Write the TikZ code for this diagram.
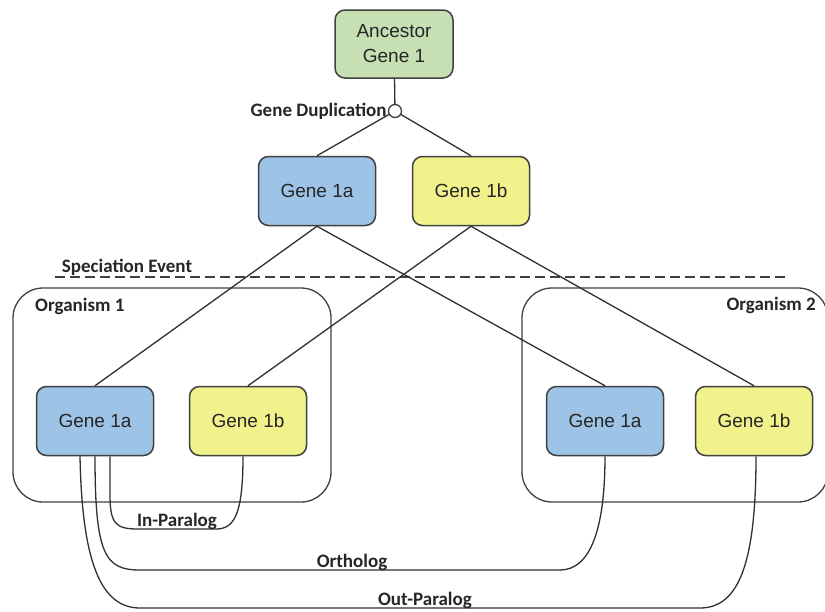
\documentclass[tikz,border=0pt]{standalone}
\usepackage{fontspec}
\setmainfont{Liberation Sans}
\newfontfamily\labelfont{Carlito}
\usepackage{tikz}

\definecolor{boxline}{HTML}{404040}
\definecolor{linkgray}{HTML}{303030}
\definecolor{ancgreen}{HTML}{C6E0B4}
\definecolor{geneblue}{HTML}{9DC3E6}
\definecolor{geneyellow}{HTML}{F2F28C}

\begin{document}
\begin{tikzpicture}[x=1pt,y=-1pt,
  gene/.style={draw=boxline, line width=1.5, rounded corners=10,
    minimum width=117, minimum height=69, inner sep=0, align=center,
    text=black!85, font=\fontsize{19}{25}\selectfont},
  blue gene/.style={gene, fill=geneblue},
  yellow gene/.style={gene, fill=geneyellow},
  orgbox/.style={draw=boxline, line width=1.3, rounded corners=30, inner sep=0},
  lbl/.style={inner sep=1, text=black!85, font=\labelfont\bfseries\fontsize{19}{21}\selectfont},
  link/.style={draw=linkgray, line width=1.3}]

\useasboundingbox (0,0) rectangle (825,611);

\node[orgbox, minimum width=318, minimum height=214] (org1) at (172,395) {};
\node[orgbox, minimum width=306, minimum height=214] (org2) at (675,395) {};
\node[lbl, anchor=west] (org1lbl) at (34,306) {Organism 1};
\node[lbl, anchor=east] (org2lbl) at (817,305) {Organism 2};

\draw[draw=boxline, line width=1.5, dash pattern=on 10 off 5]
  (55,277) -- (787,277);
\node[lbl] (spec) at (127,267) {Speciation Event};

\node[gene, fill=ancgreen, minimum width=118, minimum height=68] (anc) at (394,44) {Ancestor\\Gene 1};
\node[circle, draw=boxline, line width=1.3, fill=white, minimum size=13, inner sep=0] (dup) at (395,111) {};
\node[lbl, anchor=east] (duplbl) at (dup.west) {Gene Duplication};

\node[blue gene] (g1a) at (317,191) {Gene 1a};
\node[yellow gene] (g1b) at (471,191) {Gene 1b};

\node[blue gene] (l1a) at (95,421) {Gene 1a};
\node[yellow gene] (l1b) at (248,421) {Gene 1b};
\node[blue gene] (r1a) at (605,421) {Gene 1a};
\node[yellow gene] (r1b) at (754,421) {Gene 1b};

\draw[link] (anc) -- (dup);
\draw[link] (dup) -- (g1a.north);
\draw[link] (dup) -- (g1b.north);

\draw[link] (g1a.south) -- (l1a.north);
\draw[link] (g1b.south) -- (l1b.north);
\draw[link] (g1a.south) -- (r1a.north);
\draw[link] (g1b.south) -- (r1b.north);

\draw[link]
  ([xshift=15]l1a.south) -- (110,495)
  .. controls (110,524) and (116,529) .. (138,529)
  -- (216,529)
  .. controls (234,529) and (243,515) .. ([xshift=-5]l1b.south);
\draw[link]
  (l1a.south)
  .. controls (95,555) and (105,570) .. (140,570)
  -- (560,570)
  .. controls (590,570) and (605,530) .. (r1a.south);
\draw[link]
  ([xshift=-15]l1a.south)
  .. controls (82,560) and (100,608) .. (140,608)
  -- (700,608)
  .. controls (740,608) and (756,560) .. ([xshift=2]r1b.south);

\node[lbl, anchor=base] (inlbl) at (177,526) {In-Paralog};
\node[lbl, anchor=base] (orlbl) at (352,567) {Ortholog};
\node[lbl, anchor=base] (outlbl) at (425,605) {Out-Paralog};
\end{tikzpicture}
\end{document}
